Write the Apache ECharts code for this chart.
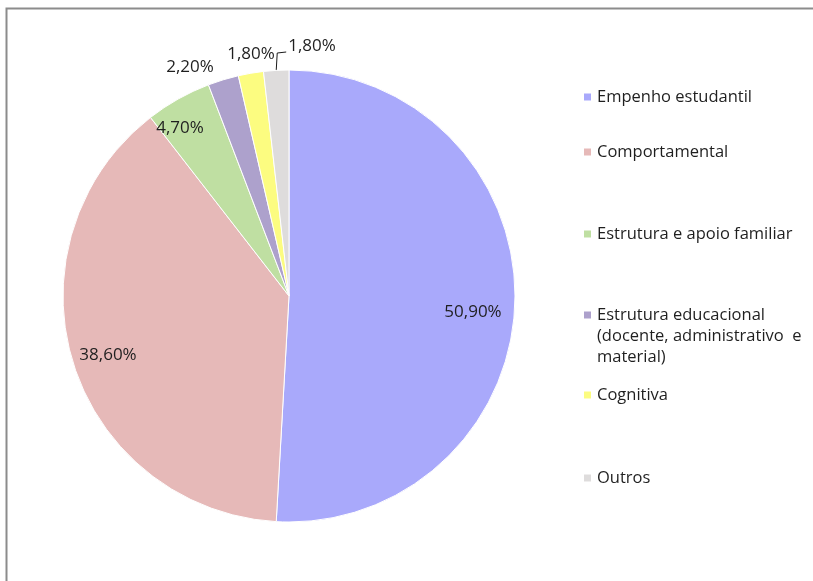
<!DOCTYPE html>
<html>
<head>
<meta charset="utf-8">
<style>
  html, body { margin: 0; padding: 0; background: #ffffff; }
  #chart { width: 813px; height: 581px; }
</style>
<script src="https://cdn.jsdelivr.net/npm/echarts@6/dist/echarts.min.js"></script>
</head>
<body>
<div id="chart"></div>
<script>
// Categories and their shares (%)
const categories = [
  'Empenho estudantil',
  'Comportamental',
  'Estrutura e apoio familiar',
  'Estrutura educacional (docente, administrativo e material)',
  'Cognitiva',
  'Outros'
];
const shares = [50.9, 38.6, 4.7, 2.2, 1.8, 1.8];

// Slice colours
const colors = ['#a9a9fb', '#e6b9b8', '#bfdfa2', '#ada1cc', '#fcfc80', '#dedcdc'];

// Where each value label sits (label centre) and whether it is inside the slice
const labelSpots = [
  { x: 473, y: 312, inside: true },
  { x: 108, y: 355, inside: true },
  { x: 180, y: 128, inside: true },
  { x: 190, y: 67,  inside: false },
  { x: 251, y: 54,  inside: false },
  { x: 312, y: 46,  inside: false, leader: true }
];

// Legend rows: vertical centre of each marker
const legendRows = [97, 152, 234, 315, 395, 478];

const FONT = '"Open Sans", "Noto Sans", sans-serif';
const TEXT = '#1f1f1f';
const LINE_H = 21;

function fmtPct(v) {
  return v.toFixed(2).replace('.', ',') + '%';
}

const pieData = categories.map((name, i) => ({
  name: name,
  value: shares[i],
  itemStyle: { color: colors[i] },
  label: { position: labelSpots[i].inside ? 'inside' : 'outside' },
  labelLine: { show: !!labelSpots[i].leader }
}));

// One legend block per category so each row keeps its own spacing.
// The long entry wraps over three lines; two blank lines in front keep
// its first line level with the marker.
const legends = categories.map((name, i) => {
  const multiline = name.indexOf('(') >= 0;
  const lines = multiline ? 5 : 1;
  return {
    data: [name],
    orient: 'vertical',
    left: 582,
    top: legendRows[i] - (lines * LINE_H) / 2,
    padding: 0,
    itemWidth: 9,
    itemHeight: 9,
    itemGap: 0,
    icon: 'rect',
    selectedMode: false,
    formatter: multiline
      ? function () { return '\n\nEstrutura educacional\n(docente, administrativo  e\nmaterial)'; }
      : '{name}',
    textStyle: {
      fontFamily: FONT,
      fontSize: 16.5,
      color: TEXT,
      lineHeight: LINE_H
    }
  };
});

const chart = echarts.init(document.getElementById('chart'), null, { renderer: 'canvas' });

chart.setOption({
  backgroundColor: '#ffffff',
  animation: false,
  graphic: [{
    type: 'polyline',
    shape: { points: [[6.5, 600], [6.5, 8.5], [830, 8.5]] },
    style: { fill: 'none', stroke: '#8c8c8c', lineWidth: 2 },
    silent: true
  }],
  legend: legends,
  series: [{
    type: 'pie',
    center: [289, 296],
    radius: 226,
    startAngle: 90,
    clockwise: true,
    avoidLabelOverlap: false,
    itemStyle: { borderColor: '#ffffff', borderWidth: 1 },
    label: {
      show: true,
      fontFamily: FONT,
      fontSize: 17,
      color: TEXT,
      formatter: function (p) { return fmtPct(p.value); }
    },
    labelLine: {
      length: 12,
      length2: 8,
      smooth: false,
      lineStyle: { color: '#1a1a1a', width: 1 }
    },
    labelLayout: function (p) {
      const s = labelSpots[p.dataIndex];
      const out = { x: s.x, y: s.y, align: 'center', verticalAlign: 'middle' };
      if (s.leader && p.labelLinePoints && p.labelLinePoints.length) {
        // Elbow leader: straight up from the slice rim, then across to the label
        const a = p.labelLinePoints[0];
        const left = s.x - p.labelRect.width / 2 - 2;
        const yBend = s.y + 6;
        out.labelLinePoints = [[a[0], a[1]], [a[0] + 1, yBend + 1], [left, yBend]];
      }
      return out;
    },
    emphasis: { disabled: true },
    data: pieData
  }]
});
</script>
</body>
</html>
